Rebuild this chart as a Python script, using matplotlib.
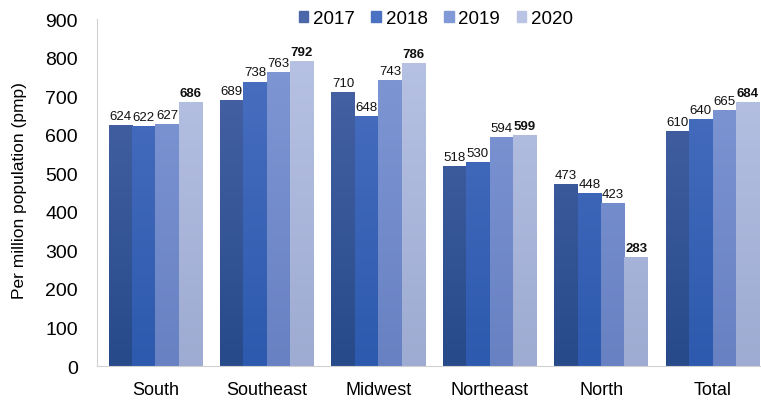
"""
Grouped bar chart: rate per million population by region, 2017-2020.
"""

import numpy as np
import matplotlib.pyplot as plt
from matplotlib.colors import LinearSegmentedColormap

plt.rcParams["font.family"] = ["Liberation Sans", "DejaVu Sans"]

REGIONS = ["South", "Southeast", "Midwest", "Northeast", "North", "Total"]
YEARS = ["2017", "2018", "2019", "2020"]

V2017 = [624, 689, 710, 518, 473, 610]
V2018 = [622, 738, 648, 530, 448, 640]
V2019 = [627, 763, 743, 594, 423, 665]
V2020 = [686, 792, 786, 599, 283, 684]

# (top, bottom) colours for the slight vertical gradient
KLEURER = [("#4b67a8", "#274a8b"),
           ("#4c71c2", "#2d5aae"),
           ("#8199d6", "#6881c2"),
           ("#b9c4e5", "#9eabd2")]


def gradient_bar(ax, rect, top, bottom):
    cmap = LinearSegmentedColormap.from_list("g", [bottom, top])
    x0 = rect.get_x()
    w = rect.get_width()
    grad = np.linspace(0, 1, 64).reshape(-1, 1)
    im = ax.imshow(grad, cmap=cmap, origin="lower", aspect="auto",
                   extent=(x0, x0 + w, 0, 900), zorder=2)
    im.set_clip_path(rect)
    rect.set_facecolor("none")


def main():
    verdier = [V2017, V2018, V2019, V2020]
    fig, ax = plt.subplots(figsize=(7.61, 4.02), dpi=100)
    fig.subplots_adjust(left=0.128, right=1.0, top=0.95, bottom=0.087)

    x = np.arange(len(REGIONS))
    w = 0.21
    for i, (aar, vals) in enumerate(zip(YEARS, verdier)):
        pos = x + (i - 1.5) * w
        bars = ax.bar(pos, vals, width=w, color=KLEURER[i][1],
                      linewidth=0, zorder=2)
        for rect, v in zip(bars, vals):
            gradient_bar(ax, rect, *KLEURER[i])
            ax.text(rect.get_x() + w / 2, v + 8, str(v), ha="center",
                    va="bottom", fontsize=9.5,
                    fontweight="bold" if aar == "2020" else "normal",
                    color="#111111", zorder=3)

    ax.set_xlim(-0.52, 5.435)
    ax.set_ylim(0, 900)
    ax.set_yticks(range(0, 901, 100))
    ax.set_xticks(x)
    ax.set_xticklabels(REGIONS, fontsize=13)
    ax.tick_params(axis="y", labelsize=14, length=0, pad=14)
    ax.tick_params(axis="x", length=0, pad=11)
    ax.set_ylabel("Per million population (pmp)", fontsize=12.5)
    ax.yaxis.set_label_coords(-0.106, 0.51)

    for side in ["top", "right"]:
        ax.spines[side].set_visible(False)
    for side in ["left", "bottom"]:
        ax.spines[side].set_color("#d0d0d0")

    handles = [plt.Rectangle((0, 0), 1, 1, color=KLEURER[i][0]) for i in range(4)]
    ax.legend(handles, YEARS, loc="upper center", bbox_to_anchor=(0.51, 1.075),
              ncol=4, frameon=False, fontsize=13.5, handlelength=0.5,
              handleheight=0.5, handletextpad=0.25, columnspacing=0.9)

    fig.savefig("out.png", dpi=100)
    plt.close(fig)


if __name__ == "__main__":
    main()
